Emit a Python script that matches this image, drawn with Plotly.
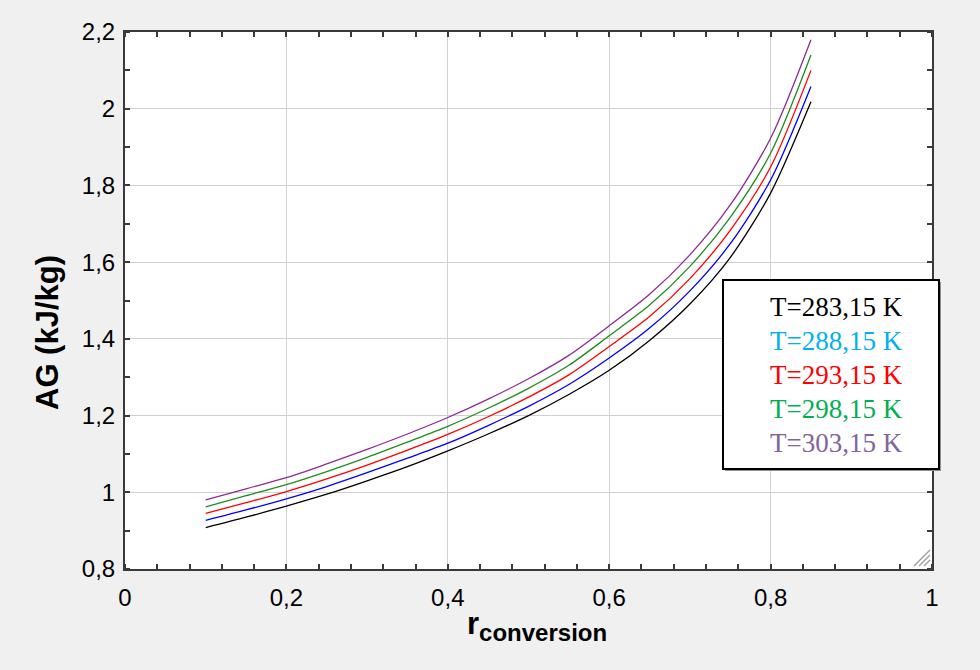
import plotly.graph_objects as go

# Conversion ratio (x) and Gibbs energy per series (kJ/kg)
r_conversion = [0.10, 0.15, 0.20, 0.25, 0.30, 0.35, 0.40, 0.45,
                0.50, 0.55, 0.60, 0.65, 0.70, 0.75, 0.80, 0.85]

ag_283 = [0.908, 0.935, 0.964, 0.995, 1.030, 1.067, 1.108, 1.152,
          1.200, 1.255, 1.318, 1.396, 1.491, 1.612, 1.780, 2.018]
ag_288 = [0.927, 0.954, 0.983, 1.015, 1.051, 1.089, 1.128, 1.174,
          1.224, 1.281, 1.350, 1.428, 1.525, 1.648, 1.814, 2.058]
ag_293 = [0.945, 0.973, 1.002, 1.035, 1.071, 1.110, 1.151, 1.197,
          1.248, 1.306, 1.380, 1.458, 1.557, 1.683, 1.848, 2.100]
ag_298 = [0.962, 0.991, 1.020, 1.054, 1.091, 1.131, 1.172, 1.219,
          1.271, 1.331, 1.408, 1.488, 1.589, 1.717, 1.884, 2.140]
ag_303 = [0.980, 1.009, 1.038, 1.074, 1.112, 1.152, 1.195, 1.243,
          1.296, 1.357, 1.434, 1.516, 1.619, 1.749, 1.923, 2.180]

series = [ag_283, ag_288, ag_293, ag_298, ag_303]
legend_labels = ["T=283,15 K", "T=288,15 K", "T=293,15 K", "T=298,15 K", "T=303,15 K"]
line_colors = ["#000000", "#0000ff", "#ff0000", "#1e8c1e", "#8e2a96"]
label_colors = ["#000000", "#00b0f0", "#ff0000", "#00b050", "#8064a2"]

x_tickvals = [0, 0.2, 0.4, 0.6, 0.8, 1.0]
x_ticktext = ["0", "0,2", "0,4", "0,6", "0,8", "1"]
y_tickvals = [0.8, 1.0, 1.2, 1.4, 1.6, 1.8, 2.0, 2.2]
y_ticktext = ["0,8", "1", "1,2", "1,4", "1,6", "1,8", "2", "2,2"]

W, H = 980, 670
L, R, T, B = 125, 48, 32, 101
pw, ph = W - L - R, H - T - B


def px_x(p):
    return (p - L) / pw


def px_y(p):
    return (H - B - p) / ph


fig = go.Figure()
for vals, name, col in zip(series, legend_labels, line_colors):
    fig.add_trace(go.Scatter(x=r_conversion, y=vals, mode="lines", name=name,
                             line=dict(color=col, width=1.3, shape="spline", smoothing=0.8),
                             showlegend=False))

axis_common = dict(
    showline=True, linecolor="#3a3a3a", linewidth=2, mirror="allticks",
    showgrid=True, gridcolor="#d0d0d0", gridwidth=1.3, zeroline=False,
    ticks="", tickfont=dict(family="Liberation Sans, Arial", size=24, color="#000000"),
)

fig.update_layout(
    width=W, height=H,
    margin=dict(l=L, r=R, t=T, b=B),
    paper_bgcolor="#f0f0f0", plot_bgcolor="#ffffff",
    xaxis=dict(range=[0, 1], tickmode="array", tickvals=x_tickvals, ticktext=x_ticktext,
               minor=dict(dtick=0.04, tick0=0, ticks="inside", ticklen=5, tickwidth=1.5,
                          tickcolor="#3a3a3a", showgrid=False),
               ticklabelstandoff=6, **axis_common),
    yaxis=dict(range=[0.8, 2.2], tickmode="array", tickvals=y_tickvals, ticktext=y_ticktext,
               minor=dict(dtick=0.1, tick0=0.8, ticks="inside", ticklen=5, tickwidth=1.5,
                          tickcolor="#3a3a3a", showgrid=False),
               ticklabelstandoff=3, **axis_common),
)

# Axis titles
title_font = dict(family="Liberation Sans, Arial", size=31, color="#000000")
fig.add_annotation(x=px_x(537), y=px_y(626), xref="paper", yref="paper",
                   text="<b>r<sub><span style='font-size:24px'>conversion</span></sub></b>",
                   showarrow=False, xanchor="center", yanchor="middle", font=title_font)
fig.add_annotation(x=px_x(47), y=px_y(333), xref="paper", yref="paper",
                   text="<b>AG (kJ/kg)</b>", textangle=-90,
                   showarrow=False, xanchor="center", yanchor="middle", font=title_font)

# Legend box with coloured labels
box = dict(x0=723, x1=939, y0=280, y1=469)
fig.add_shape(type="rect", xref="paper", yref="paper",
              x0=px_x(box["x0"] + 2), x1=px_x(box["x1"] + 2),
              y0=px_y(box["y1"] + 2), y1=px_y(box["y0"] + 2),
              line=dict(color="#909090", width=0), fillcolor="#909090", layer="above")
fig.add_shape(type="rect", xref="paper", yref="paper",
              x0=px_x(box["x0"]), x1=px_x(box["x1"]),
              y0=px_y(box["y1"]), y1=px_y(box["y0"]),
              line=dict(color="#000000", width=2), fillcolor="#ffffff", layer="above")
for i, (txt, col) in enumerate(zip(legend_labels, label_colors)):
    fig.add_annotation(x=px_x(836), y=px_y(307 + 34 * i), xref="paper", yref="paper",
                       text=txt, showarrow=False, xanchor="center", yanchor="middle",
                       font=dict(family="Liberation Serif, Times New Roman", size=27, color=col))

# Window size grip in the lower right corner
for k in range(3):
    fig.add_shape(type="line", xref="paper", yref="paper",
                  x0=px_x(914 + 5 * k), y0=px_y(566),
                  x1=px_x(930), y1=px_y(550 + 5 * k),
                  line=dict(color="#a0a0a0", width=1.5), layer="above")

fig.write_html("out.html")
